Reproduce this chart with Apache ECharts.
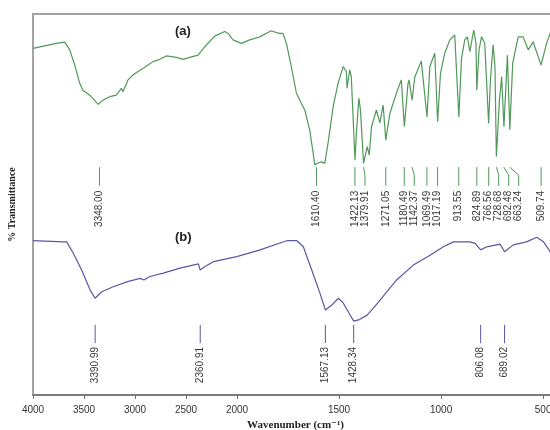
<!DOCTYPE html>
<html lang="en">
<head>
<meta charset="utf-8">
<script src="https://cdn.jsdelivr.net/npm/echarts@6/dist/echarts.min.js"></script>
<style>
  html, body { margin: 0; padding: 0; background: #fff; }
  #chart { width: 550px; height: 430px; }
</style>
</head>
<body>
<div id="chart"></div>
<script>
// spectrum (a): [wavenumber cm-1, % transmittance (relative)]
var specA = [
  [4000,91.0],[3772,92.3],[3689,92.6],[3640,90.6],[3591,86.6],[3542,81.8],[3510,79.9],[3444,78.7],
  [3360,76.3],[3314,77.4],[3248,78.3],[3183,78.7],[3134,80.5],[3118,79.6],[3069,82.7],[3020,84.0],
  [2971,84.9],[2922,85.7],[2873,86.6],[2824,87.5],[2758,88.1],[2693,89.0],[2595,88.6],[2529,88.1],
  [2464,88.6],[2382,89.2],[2317,91.4],[2219,94.2],[2121,95.4],[2088,94.9],[2039,93.2],[1979,92.3],
  [1938,93.2],[1889,94.0],[1832,95.6],[1807,95.1],[1791,94.9],[1775,94.9],[1758,92.3],[1734,86.2],
  [1709,79.2],[1685,76.6],[1668,74.8],[1644,69.6],[1627,63.5],[1619,60.4],[1603,60.9],[1587,61.2],
  [1570,60.8],[1554,66.1],[1529,75.7],[1505,81.8],[1480,86.2],[1464,84.9],[1461,80.5],[1448,85.3],
  [1440,83.5],[1422,61.7],[1415,68.8],[1403,77.9],[1395,74.8],[1380,60.8],[1362,65.2],[1352,63.0],
  [1341,70.4],[1317,74.8],[1300,71.4],[1284,76.1],[1271,66.9],[1251,73.9],[1219,79.2],[1195,82.7],
  [1180,70.4],[1162,81.8],[1157,82.7],[1142,77.4],[1129,83.4],[1097,87.7],[1069,73.0],[1055,86.2],
  [1031,89.7],[1017,71.7],[1003,84.4],[982,89.7],[957,93.2],[933,94.5],[925,94.9],[913,73.0],
  [900,88.3],[884,93.2],[871,94.0],[859,90.1],[840,95.8],[829,92.3],[825,80.0],[814,90.6],
  [802,94.0],[786,92.3],[767,71.3],[758,82.7],[745,91.9],[736,86.2],[729,62.6],[714,77.4],
  [703,83.5],[692,70.4],[675,89.2],[663,69.6],[649,87.1],[622,94.0],[598,94.0],[573,90.6],
  [549,92.7],[524,88.8],[510,86.6],[483,92.3],[459,95.8],[427,96.5]
];

// spectrum (b)
var specB = [
  [4000,40.5],[3703,40.2],[3670,40.2],[3605,37.2],[3523,32.8],[3441,27.6],[3391,25.4],[3327,27.1],
  [3213,28.4],[3081,29.7],[2951,30.6],[2912,30.2],[2853,31.1],[2723,32.0],[2559,33.3],[2379,34.4],
  [2361,32.8],[2314,33.7],[2232,35.0],[2003,36.3],[1887,38.1],[1789,39.9],[1756,40.5],[1707,40.5],
  [1675,38.9],[1634,32.8],[1593,26.6],[1567,22.3],[1536,23.6],[1503,25.4],[1479,24.1],[1446,21.0],
  [1428,19.4],[1400,19.8],[1364,20.9],[1335,22.6],[1299,24.9],[1218,30.2],[1136,34.1],[1054,36.7],
  [989,38.9],[940,40.2],[858,40.2],[833,39.8],[806,38.1],[776,38.9],[711,39.6],[689,37.6],
  [646,39.4],[581,40.2],[531,41.4],[498,40.2],[465,37.6],[440,30.5],[427,29.0]
];

var peaksA = [3348.00, 1610.40, 1422.13, 1379.91, 1271.05, 1180.49, 1142.37, 1069.49, 1017.19,
              913.55, 824.89, 766.56, 728.68, 692.48, 663.24, 509.74];
var peaksB = [3390.99, 2360.91, 1567.13, 1428.34, 806.08, 689.02, 435.36];

var tickWn = [4000, 3500, 3000, 2500, 2000, 1500, 1000, 500];

var colorA = '#51995a';
var colorB = '#5a58a4';
var txtFont = '10px "Liberation Sans", Arial, sans-serif';

// the axis is squeezed 2x above 2000 cm-1
function toAxis(wn) { return wn > 2000 ? 2000 + (wn - 2000) / 2 : wn; }
function fromAxis(d) { return d > 2000 ? 2000 + (d - 2000) * 2 : d; }

function mapSpec(spec) {
  return spec.map(function (p) { return [toAxis(p[0]), p[1]]; });
}

// leader lines + rotated peak labels
function peakSeries(peaks, color, yTop, yBot, yText) {
  return {
    type: 'custom',
    silent: true,
    data: peaks.map(function (p) { return [toAxis(p)]; }),
    renderItem: function (params, api) {
      var xs = peaks.map(function (p) { return api.coord([toAxis(p), yTop])[0]; });
      var lx = [];
      for (var k = 0; k < xs.length; k++) {
        lx.push(k === 0 ? xs[0] : Math.max(xs[k], lx[k - 1] + 10));
      }
      var i = params.dataIndex;
      var top = api.coord([toAxis(peaks[i]), yTop])[1];
      var bot = api.coord([toAxis(peaks[i]), yBot])[1];
      var ty = api.coord([toAxis(peaks[i]), yText])[1];
      var pts = lx[i] === xs[i]
        ? [[xs[i], top], [lx[i], bot]]
        : [[xs[i], top], [lx[i], top + 8], [lx[i], bot]];
      return {
        type: 'group',
        children: [
          { type: 'polyline', shape: { points: pts },
            style: { stroke: color, lineWidth: 1, fill: null } },
          { type: 'text', x: lx[i], y: ty, rotation: Math.PI / 2,
            style: { text: peaks[i].toFixed(2), fill: '#3a3a3a', font: txtFont,
                     align: 'right', verticalAlign: 'middle' } }
        ]
      };
    }
  };
}

var myChart = echarts.init(document.getElementById('chart'), null, { renderer: 'canvas' });

var option = {
  animation: false,
  backgroundColor: '#fff',
  grid: { left: 33, width: 525, top: 14, bottom: 35, show: true,
          outerBoundsMode: 'none', containLabel: false,
          borderColor: '#a3a3a3', borderWidth: 2 },
  xAxis: {
    type: 'value', inverse: true, min: 427, max: 3000,
    axisLine: { show: true, lineStyle: { color: '#707070', width: 1.5 } },
    axisTick: { show: true, customValues: tickWn.map(toAxis), length: 4,
                lineStyle: { color: '#707070' } },
    axisLabel: { customValues: tickWn.map(toAxis), color: '#333', fontSize: 10, margin: 10,
                 fontFamily: '"Liberation Sans", Arial, sans-serif',
                 formatter: function (v) { return String(Math.round(fromAxis(v))); } },
    splitLine: { show: false },
    name: 'Wavenumber (cm\u207B\u00B9)', nameLocation: 'middle', nameGap: 25,
    nameTextStyle: { fontFamily: '"Liberation Serif", "DejaVu Serif", serif', fontWeight: 'bold',
                     fontSize: 11, color: '#222' }
  },
  yAxis: {
    type: 'value', min: 0, max: 100,
    axisLine: { show: true, lineStyle: { color: '#a3a3a3', width: 2 } },
    axisTick: { show: false },
    axisLabel: { show: false },
    splitLine: { show: false },
    name: '% Transmittance', nameLocation: 'middle', nameGap: 16,
    nameTextStyle: { fontFamily: '"Liberation Serif", "DejaVu Serif", serif', fontWeight: 'bold',
                     fontSize: 10, color: '#222' }
  },
  graphic: [
    { type: 'text', left: 175, top: 25,
      style: { text: '(a)', font: 'bold 13px "Liberation Sans", Arial, sans-serif', fill: '#222' } },
    { type: 'text', left: 175, top: 231,
      style: { text: '(b)', font: 'bold 13px "Liberation Sans", Arial, sans-serif', fill: '#222' } }
  ],
  series: [
    { type: 'line', data: mapSpec(specA), showSymbol: false, symbol: 'none',
      lineStyle: { color: colorA, width: 1.2 } },
    { type: 'line', data: mapSpec(specB), showSymbol: false, symbol: 'none',
      lineStyle: { color: colorB, width: 1.2 } },
    peakSeries(peaksA, colorA, 59.8, 54.9, 53.6),
    peakSeries(peaksB, colorB, 18.4, 13.6, 12.6)
  ]
};

myChart.setOption(option);
</script>
</body>
</html>
